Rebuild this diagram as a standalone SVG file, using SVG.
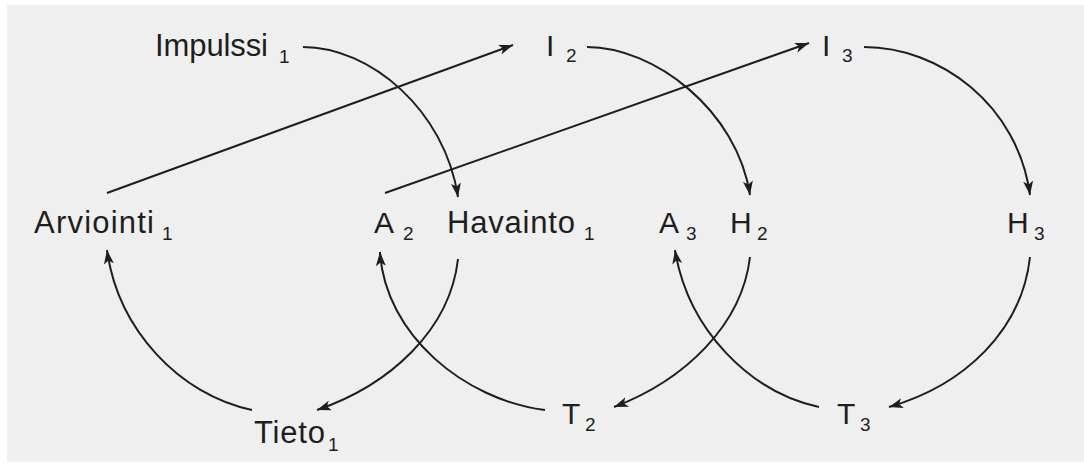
<svg xmlns="http://www.w3.org/2000/svg" width="1084" height="464" viewBox="0 0 1084 464">
  <style>
    .lbl { font-family: "Liberation Sans", Arial, sans-serif; font-size: 30px; fill: #1e1e1e; }
    .word { font-size: 31px; }
    .sub { font-family: "Liberation Sans", Arial, sans-serif; font-size: 19px; fill: #1e1e1e; }
    .edge { fill: none; stroke: #1e1e1e; stroke-width: 2; marker-end: url(#arr); }
  </style>
  <defs>
    <marker id="arr" markerUnits="userSpaceOnUse" markerWidth="16" markerHeight="12" refX="14" refY="5" orient="auto">
      <path d="M0,0 L14,5 L0,10 L3.5,5 Z" fill="#1e1e1e"/>
    </marker>
  </defs>
  <rect x="0" y="0" width="1084" height="464" fill="#ffffff"/>
  <rect x="7" y="5" width="1077" height="457" fill="#efefef"/>

  <g id="connectors">
    <path class="edge" d="M303,47 C370,47 445,110 458,197"/>
    <path class="edge" d="M587,47 C654,47 737,110 750,195"/>
    <path class="edge" d="M864,47 C940,47 1018,105 1030,195"/>
    <path class="edge" d="M107,193 L513,45"/>
    <path class="edge" d="M385,193 L809,43"/>
    <path class="edge" d="M252,410 C180,395 118,330 107,250"/>
    <path class="edge" d="M458,259 C450,330 390,385 317,410"/>
    <path class="edge" d="M545,410 C465,400 385,335 380,252"/>
    <path class="edge" d="M750,257 C742,325 685,380 614,407"/>
    <path class="edge" d="M819,407 C750,392 688,330 675,250"/>
    <path class="edge" d="M1030,257 C1022,330 965,385 889,407"/>
  </g>

  <g id="impulssi1"><text class="lbl word" x="155" y="56" textLength="113">Impulssi</text><text class="sub" x="279" y="63">1</text></g>
  <g id="i2"><text class="lbl" x="546" y="56">I</text><text class="sub" x="566" y="62">2</text></g>
  <g id="i3"><text class="lbl" x="822" y="56">I</text><text class="sub" x="842" y="62">3</text></g>
  <g id="arviointi1"><text class="lbl word" x="34" y="233" textLength="120">Arviointi</text><text class="sub" x="162" y="240">1</text></g>
  <g id="a2"><text class="lbl" x="374" y="233">A</text><text class="sub" x="403" y="240">2</text></g>
  <g id="havainto1"><text class="lbl word" x="447" y="233" textLength="128">Havainto</text><text class="sub" x="584" y="240">1</text></g>
  <g id="a3"><text class="lbl" x="659" y="233">A</text><text class="sub" x="686" y="240">3</text></g>
  <g id="h2"><text class="lbl" x="730" y="233">H</text><text class="sub" x="757" y="240">2</text></g>
  <g id="h3"><text class="lbl" x="1007" y="233">H</text><text class="sub" x="1034" y="240">3</text></g>
  <g id="tieto1"><text class="lbl word" x="254" y="443" textLength="71">Tieto</text><text class="sub" x="328" y="451">1</text></g>
  <g id="t2"><text class="lbl" x="562" y="424">T</text><text class="sub" x="585" y="431">2</text></g>
  <g id="t3"><text class="lbl" x="837" y="424">T</text><text class="sub" x="860" y="431">3</text></g>
</svg>
